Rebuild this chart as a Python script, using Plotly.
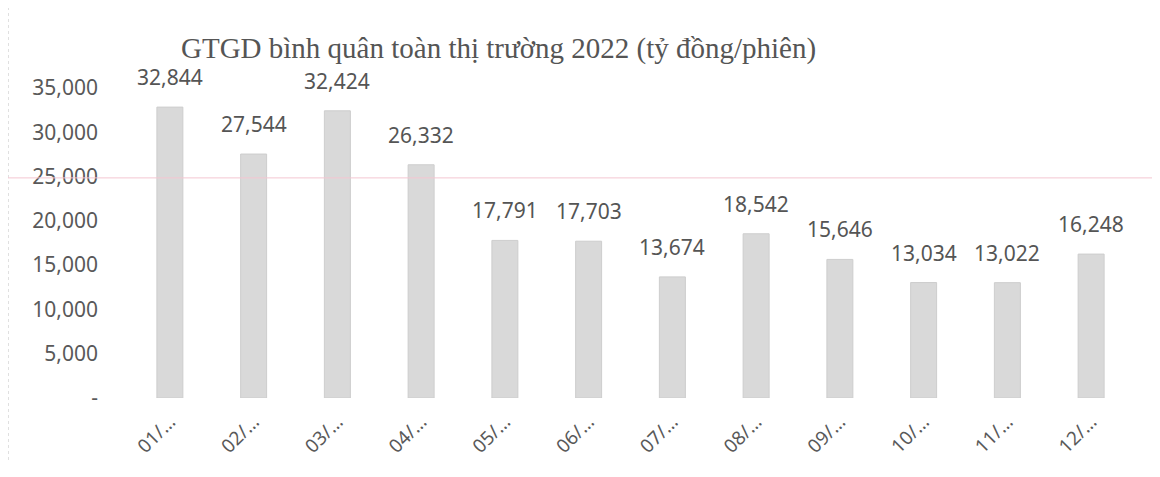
import plotly.graph_objects as go

months = ["01/…", "02/…", "03/…", "04/…", "05/…", "06/…", "07/…", "08/…", "09/…", "10/…", "11/…", "12/…"]
values = [32844, 27544, 32424, 26332, 17791, 17703, 13674, 18542, 15646, 13034, 13022, 16248]
tick_vals = [0, 5000, 10000, 15000, 20000, 25000, 30000, 35000]
tick_text = ["-", "5,000", "10,000", "15,000", "20,000", "25,000", "30,000", "35,000"]
title_text = "GTGD bình quân toàn thị trường 2022 (tỷ đồng/phiên)"

fig = go.Figure(go.Bar(
    x=months, y=values,
    marker=dict(color="#d9d9d9", line=dict(color="#cdcdcd", width=1)),
    width=0.31,
    hoverinfo="x+y",
))

label_annotations = [
    dict(x=m, y=v, xref="x", yref="y", text=f"{v:,}", showarrow=False,
         xanchor="center", yanchor="bottom", yshift=14,
         font=dict(family="Noto Sans", size=21, color="#555555"))
    for m, v in zip(months, values)
]

fig.update_layout(
    width=1160, height=477,
    margin=dict(l=120, r=35, t=80, b=87),
    paper_bgcolor="white", plot_bgcolor="white",
    showlegend=False,
    bargap=0.69,
    font=dict(family="Noto Sans", color="#595959"),
    annotations=[dict(
        text=title_text, xref="paper", yref="paper", x=0.369, y=1.0, yshift=40,
        xanchor="center", yanchor="middle", showarrow=False,
        font=dict(family="Liberation Serif", size=29, color="#555555"),
    )] + label_annotations,
    shapes=[
        dict(type="line", xref="paper", yref="paper", x0=-0.12, x1=1.03, y0=1.27, y1=1.27,
             line=dict(color="#9a9a9a", width=1, dash="dot")),
        dict(type="line", xref="paper", yref="paper", x0=-0.119, x1=-0.119, y0=-0.2, y1=1.27,
             line=dict(color="#dddddd", width=1, dash="dot")),
        dict(type="line", xref="paper", yref="paper", x0=-0.13, x1=1.03, y0=0.71, y1=0.71,
             line=dict(color="#f4c6d2", width=1)),
    ],
)
fig.update_xaxes(
    showgrid=False, showline=False, zeroline=False, ticks="",
    tickangle=-45, ticklabelstandoff=8,
    tickfont=dict(family="Noto Sans", size=19, color="#595959"),
)
fig.update_yaxes(
    range=[0, 35000], tickvals=tick_vals, ticktext=tick_text,
    showgrid=False, zeroline=False, showline=False, ticks="",
    ticklabelstandoff=29,
    tickfont=dict(family="Noto Sans", size=21, color="#595959"),
)

fig.write_html("out.html")
